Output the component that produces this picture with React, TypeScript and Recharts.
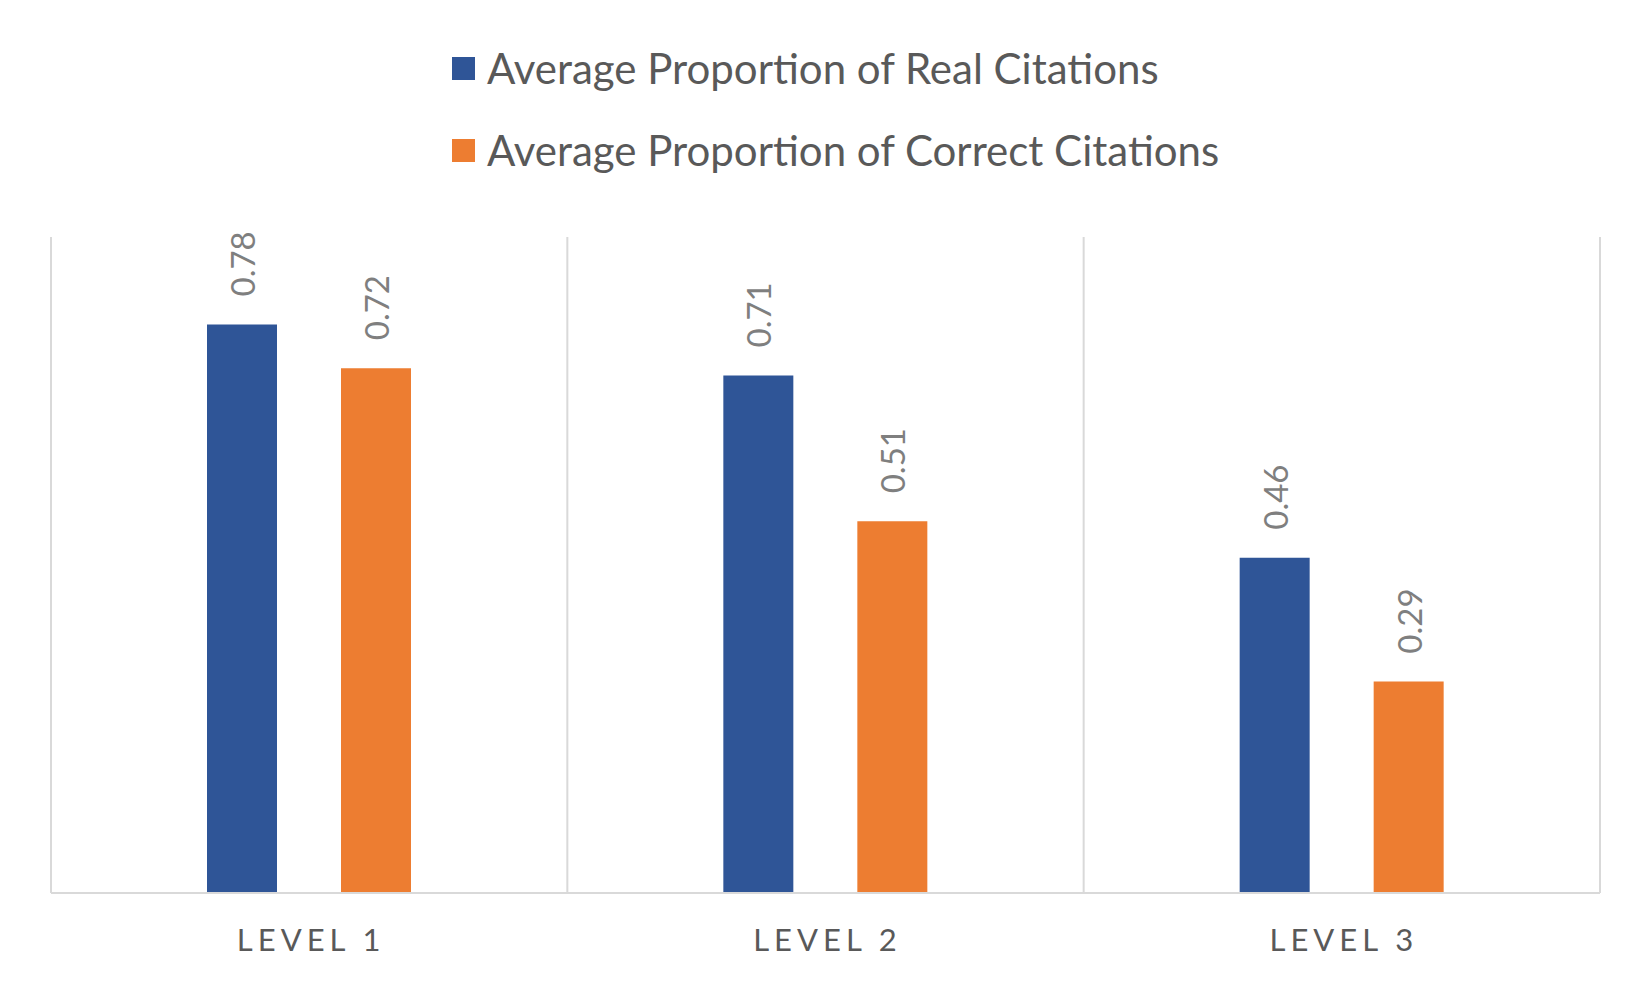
import React from 'react';
import { BarChart, Bar, XAxis, YAxis, CartesianGrid, Legend, LabelList } from 'recharts';

const categories = ['LEVEL 1', 'LEVEL 2', 'LEVEL 3'];
const realCitations = [0.78, 0.71, 0.46];
const correctCitations = [0.72, 0.51, 0.29];
const seriesKeys = ['real', 'correct'];
const seriesNames = ['Average Proportion of Real Citations', 'Average Proportion of Correct Citations'];
const seriesColors = ['#2F5597', '#ED7D31'];
const yDomain = [0, 0.9];

const data = categories.map((c, i) => ({ name: c, real: realCitations[i], correct: correctCitations[i] }));

const FONT = 'Lato, "Open Sans", sans-serif';
const GRID = '#d9d9d9';

const RotatedLabel = (props: any) => {
  const { x, y, width, value } = props;
  const cx = Number(x) + Number(width) / 2;
  const cy = Number(y) - 28;
  return (
    <text
      x={cx}
      y={cy}
      transform={`rotate(-90, ${cx}, ${cy})`}
      textAnchor="start"
      dominantBaseline="central"
      fill="#7f7f7f"
      fontSize={33}
      fontFamily={FONT}
    >
      {Number(value).toFixed(2)}
    </text>
  );
};

const CategoryTick = (props: any) => {
  const { x, y, payload } = props;
  return (
    <text
      x={Number(x) + 2}
      y={Number(y) + 46}
      textAnchor="middle"
      dominantBaseline="central"
      fill="#595959"
      fontSize={31}
      fontFamily={FONT}
      style={{ letterSpacing: '5px' }}
    >
      {payload.value}
    </text>
  );
};

const renderLegend = () => (
  <div style={{ fontFamily: FONT, color: '#595959', fontSize: 42 }}>
    {seriesNames.map((n, i) => (
      <div key={n} style={{ display: 'flex', alignItems: 'center', height: 82 }}>
        <span style={{ display: 'inline-block', width: 23, height: 23, background: seriesColors[i], marginRight: 12 }} />
        <span>{n}</span>
      </div>
    ))}
  </div>
);

export default function App() {
  return (
    <div style={{ position: 'absolute', left: 0, top: 0, width: 1650, height: 990, background: '#ffffff' }}>
      <BarChart
        width={1650}
        height={990}
        data={data}
        margin={{ top: 237, right: 50, bottom: 0, left: 51 }}
        barSize={70}
        barGap={64}
      >
        <CartesianGrid
          horizontal={false}
          vertical={true}
          stroke={GRID}
          strokeWidth={2}
          verticalCoordinatesGenerator={({ offset }: any) =>
            [0, 1, 2, 3].map((i) => offset.left + (i * offset.width) / categories.length)
          }
        />
        <XAxis
          dataKey="name"
          height={97}
          axisLine={{ stroke: GRID, strokeWidth: 2 }}
          tickLine={false}
          tickSize={0}
          tickMargin={0}
          tick={<CategoryTick />}
        />
        <YAxis hide domain={yDomain} />
        <Legend
          layout="horizontal"
          verticalAlign="middle"
          align="center"
          content={renderLegend}
          wrapperStyle={{ position: 'absolute', top: 27, left: 452, width: 1000, height: 170 }}
        />
        {seriesKeys.map((k, i) => (
          <Bar key={k} dataKey={k} name={seriesNames[i]} fill={seriesColors[i]} isAnimationActive={false}>
            <LabelList dataKey={k} content={<RotatedLabel />} />
          </Bar>
        ))}
      </BarChart>
    </div>
  );
}
